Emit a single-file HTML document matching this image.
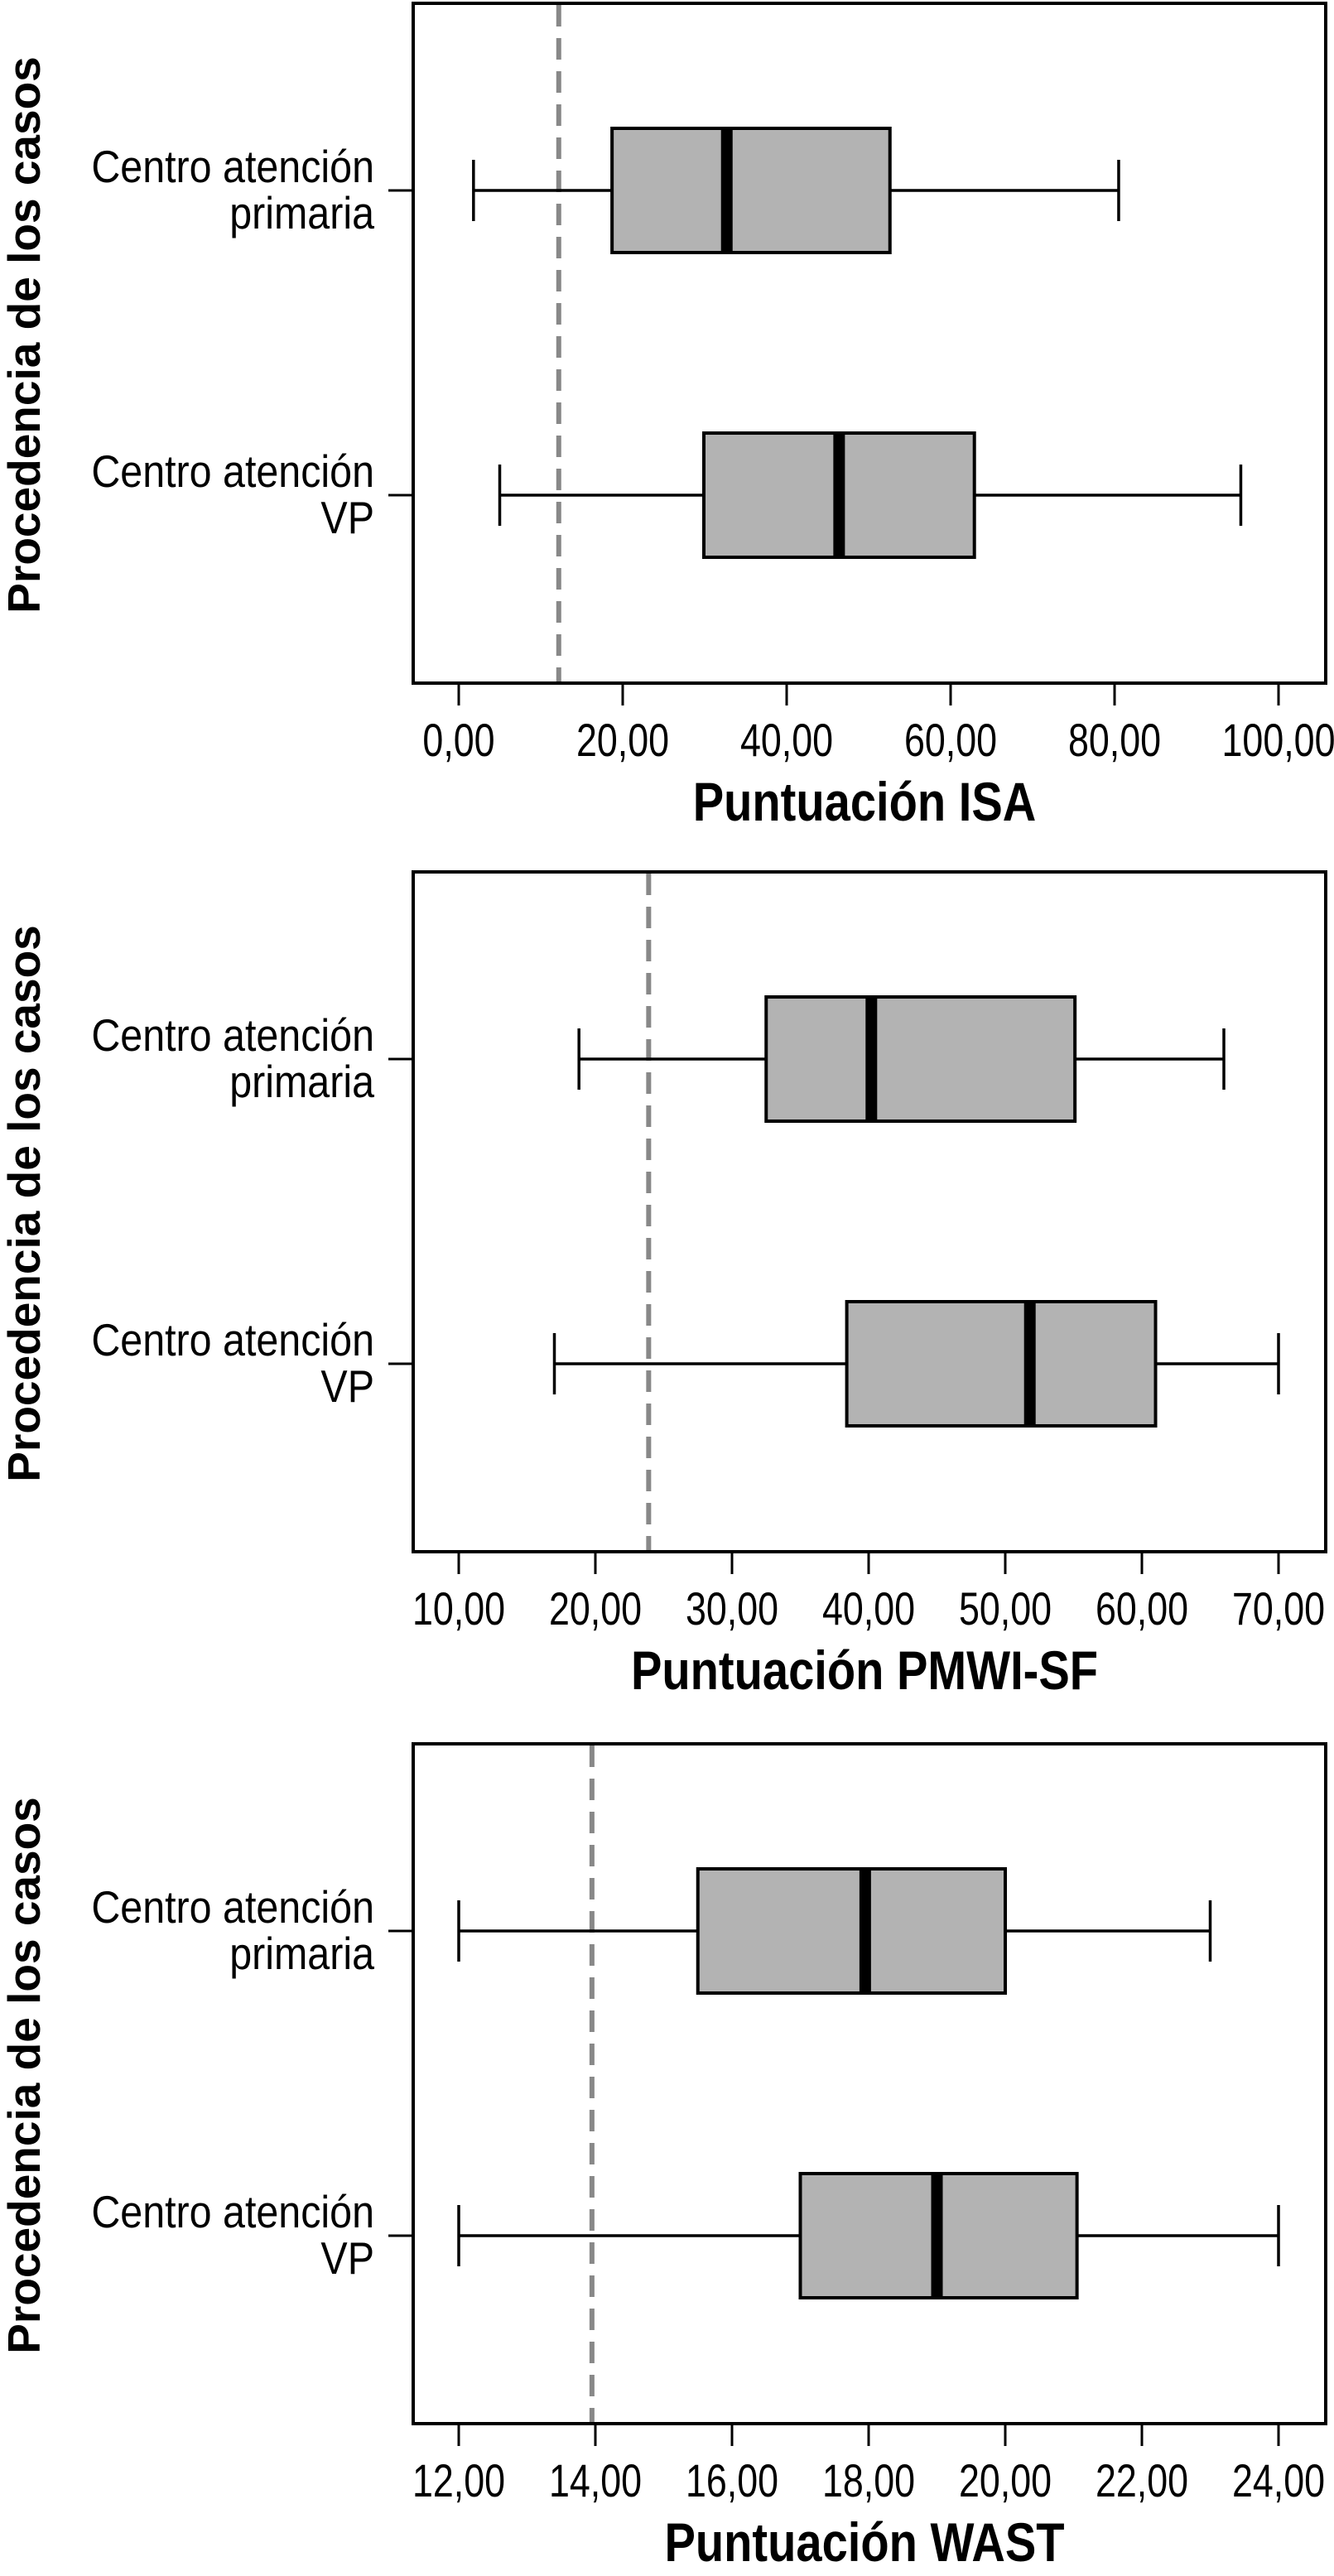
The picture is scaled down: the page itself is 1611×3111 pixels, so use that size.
<!DOCTYPE html>
<html><head><meta charset="utf-8">
<style>
html,body{margin:0;padding:0;background:#fff;}
svg{display:block;}
</style></head>
<body>
<svg id="chart" width="1611" height="3111" viewBox="0 0 1611 3111" xmlns="http://www.w3.org/2000/svg"></svg>
<script>
const categories = ["Centro atención|primaria", "Centro atención|VP"];
const panelTitles = ["Puntuación ISA", "Puntuación PMWI-SF", "Puntuación WAST"];
const isaStats = [[1.8, 18.7, 32.7, 52.6, 80.5], [5.0, 29.9, 46.4, 62.9, 95.4]];
const pmwiStats = [[18.8, 32.5, 40.2, 55.1, 66.0], [17.0, 38.4, 51.8, 61.0, 70.0]];
const wastStats = [[12.0, 15.5, 17.95, 20.0, 23.0], [12.0, 17.0, 19.0, 21.05, 24.0]];
const isaTicks = [0, 20, 40, 60, 80, 100];
const pmwiTicks = [10, 20, 30, 40, 50, 60, 70];
const wastTicks = [12, 14, 16, 18, 20, 22, 24];
const cutoffs = [12.2, 23.9, 13.95];

const NS = "http://www.w3.org/2000/svg";
const svg = document.getElementById("chart");
function mk(tag, attrs, parent) {
  const e = document.createElementNS(NS, tag);
  for (const k in attrs) e.setAttribute(k, attrs[k]);
  (parent || svg).appendChild(e);
  return e;
}
const fmt = v => v.toFixed(2).replace(".", ",");
const panels = [
  {stats: isaStats, ticks: isaTicks, top: 4},
  {stats: pmwiStats, ticks: pmwiTicks, top: 1053},
  {stats: wastStats, ticks: wastTicks, top: 2106}
];
const FL = 499, FR = 1601, FH = 821, TX0 = 554, TX1 = 1544;
const sans = '"Liberation Sans", sans-serif';
const SX = 0.8;

panels.forEach((p, pi) => {
  const g = mk("g", {});
  
  
  const t0 = p.ticks[0], t1 = p.ticks[p.ticks.length - 1];
  const x = v => TX0 + (v - t0) / (t1 - t0) * (TX1 - TX0);
  const top = p.top, bot = top + FH;

  const fr = mk("rect", {x: FL, y: top, width: FR - FL, height: FH, fill: "none", stroke: "#000", "stroke-width": 4}, g);
  
  

  const cl = mk("line", {x1: x(cutoffs[pi]), x2: x(cutoffs[pi]), y1: top + 2, y2: bot - 2, stroke: "#888", "stroke-width": 6, "stroke-dasharray": "26 14"}, g);
  
  

  p.ticks.forEach(t => {
    const tl = mk("line", {x1: x(t), x2: x(t), y1: bot, y2: bot + 27, stroke: "#000", "stroke-width": 3}, g);
    
    
    const tt = mk("text", {x: 0, y: 0, transform: `translate(${x(t)},${bot + 88}) scale(${SX},1)`, "text-anchor": "middle", "font-family": sans, "font-size": 56, fill: "#000"}, g);
    tt.textContent = fmt(t);
    
    
  });

  const xt = mk("text", {x: 0, y: 0, transform: `translate(1044,${bot + 166}) scale(0.85,1)`, "text-anchor": "middle", "font-family": sans, "font-weight": "bold", "font-size": 66, fill: "#000"}, g);
  xt.textContent = panelTitles[pi];
  
  

  const cy = top + FH / 2 - 10;
  const yt = mk("text", {x: 0, y: 0, transform: `translate(48,${cy}) rotate(-90)`, "text-anchor": "middle", "font-family": sans, "font-weight": "bold", "font-size": 55, fill: "#000"}, g);
  yt.textContent = "Procedencia de los casos";
  
  

  const rowY = [top + 226, top + 594];
  p.stats.forEach((s, ri) => {
    const y = rowY[ri];
    const bg = mk("g", {}, g);
    
    
    mk("line", {x1: FL - 30, x2: FL, y1: y, y2: y, stroke: "#000", "stroke-width": 3}, bg);
    const parts = categories[ri].split("|");
    parts.forEach((ln, li) => {
      const ct = mk("text", {x: 0, y: 0, transform: `translate(452,${y - 10 + li * 56}) scale(0.88,1)`, "text-anchor": "end", "font-family": sans, "font-size": 55, fill: "#000"}, bg);
      ct.textContent = ln;
      
      
    });
    mk("line", {x1: x(s[0]), x2: x(s[1]), y1: y, y2: y, stroke: "#000", "stroke-width": 3.5}, bg);
    mk("line", {x1: x(s[3]), x2: x(s[4]), y1: y, y2: y, stroke: "#000", "stroke-width": 3.5}, bg);
    mk("line", {x1: x(s[0]), x2: x(s[0]), y1: y - 37, y2: y + 37, stroke: "#000", "stroke-width": 3.5}, bg);
    mk("line", {x1: x(s[4]), x2: x(s[4]), y1: y - 37, y2: y + 37, stroke: "#000", "stroke-width": 3.5}, bg);
    mk("rect", {x: x(s[1]), y: y - 75, width: x(s[3]) - x(s[1]), height: 150, fill: "#b3b3b3", stroke: "#000", "stroke-width": 4}, bg);
    mk("line", {x1: x(s[2]), x2: x(s[2]), y1: y - 75, y2: y + 75, stroke: "#000", "stroke-width": 14}, bg);
  });
});
</script>
</body></html>
